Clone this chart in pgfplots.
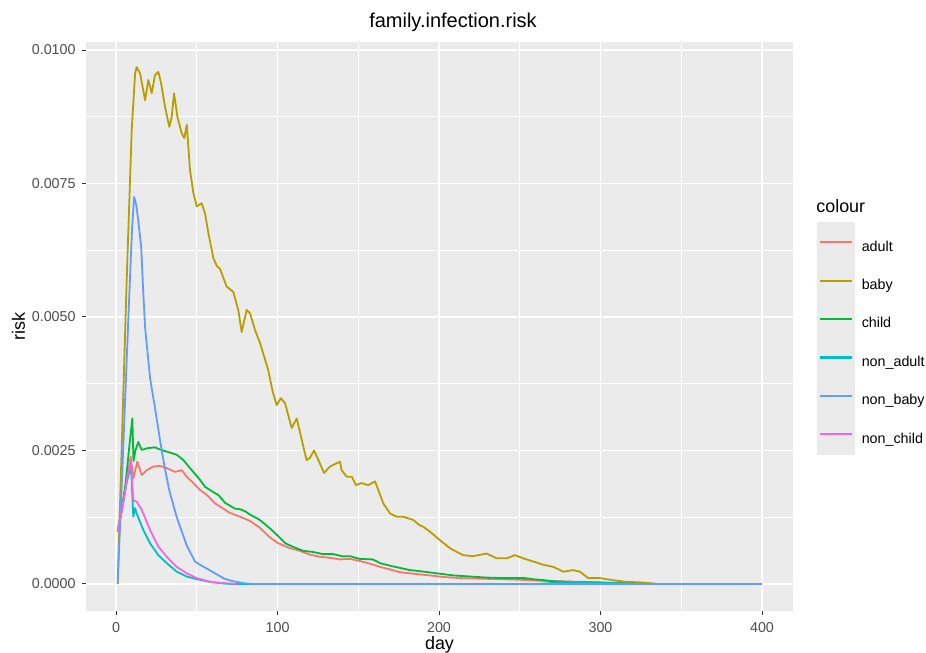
\documentclass[border=0pt]{standalone}
\usepackage{pgfplots}
\pgfplotsset{compat=1.18}
\usepackage{fontspec}
\setmainfont{Liberation Sans}
\definecolor{ggbg}{HTML}{EBEBEB}
\definecolor{gg20}{HTML}{333333}
\definecolor{gg30}{HTML}{4D4D4D}
\definecolor{cadult}{HTML}{F8766D}
\definecolor{cbaby}{HTML}{B79F00}
\definecolor{cchild}{HTML}{00BA38}
\definecolor{cnonadult}{HTML}{00BFC4}
\definecolor{cnonbaby}{HTML}{619CFF}
\definecolor{cnonchild}{HTML}{F564E3}
\begin{document}
\begin{tikzpicture}
\path[use as bounding box] (-43pt,-21pt) rectangle (420pt,305.5pt);
\begin{axis}[
  at={(0pt,0pt)}, anchor=south west,
  scale only axis, width=353.5pt, height=284.5pt,
  xmin=-18.6, xmax=419.2, ymin=-0.000506, ymax=0.01015,
  axis background/.style={fill=ggbg},
  axis line style={draw=none},
  xtick={0,100,200,300,400}, xticklabels={0,100,200,300,400},
  ytick={0,0.0025,0.005,0.0075,0.01},
  yticklabels={0.0000,0.0025,0.0050,0.0075,0.0100},
  scaled y ticks=false, scaled x ticks=false,
  minor xtick={50,150,250,350},
  minor ytick={0.00125,0.00375,0.00625,0.00875},
  grid=both,
  major grid style={white,line width=0.9pt},
  minor grid style={white,line width=0.45pt},
  tick align=outside, xtick pos=bottom, ytick pos=left,
  major tick length=2pt, minor tick length=0pt,
  tick style={draw=gg20, line width=0.5pt},
  ticklabel style={font=\fontsize{7.15}{8}\selectfont, text=gg30, inner sep=0pt},
  yticklabel style={xshift=-3pt},
  xticklabel style={yshift=-3.5pt},
  no markers,
  every axis plot/.append style={line width=0.9pt, line join=round},
  legend style={at={(axis description cs:1.0335,0.6837)}, anchor=north west,
    draw=none, fill=none, inner sep=0pt, outer sep=0pt, row sep=-1.2pt, column sep=3.35pt,
    font=\fontsize{7.15}{8}\selectfont, nodes={inner sep=0pt, text=black}},
  legend cell align=left,
  legend image code/.code={\fill[ggbg] (0pt,-7.25pt) rectangle (18.3pt,12.25pt);
    \draw[#1,line width=1.1pt] (1.3pt,2.5pt) -- (17pt,2.5pt);},
]
% adult
\addplot[cadult] coordinates {(1,0.00098) (4,0.00145) (6.5,0.0019) (9.1,0.00238) (10.7,0.00198) (13.2,0.00229) (15.9,0.00204) (19,0.00213) (23.1,0.0022) (27.2,0.00221) (31.4,0.00217) (36.5,0.0021) (40.7,0.00213) (43.8,0.00201) (47.9,0.00189) (52,0.00176) (56.1,0.00167) (61.3,0.00151) (64.4,0.00145) (70.6,0.00133) (76.8,0.00126) (83,0.00118) (89.2,0.00105) (95,0.00088) (100,0.00077) (107.7,0.00067) (113.9,0.00062) (120,0.00055) (126.3,0.00051) (132.5,0.00049) (138.7,0.00046) (144.9,0.00047) (151,0.00043) (157.3,0.00038) (163.5,0.00032) (170,0.00027) (175.9,0.00022) (185,0.00019) (194.4,0.00016) (203,0.00013) (213,0.00011) (225,0.0001) (237.8,0.00009) (250,0.00008) (262.5,0.00006) (275,0.00005) (287.3,0.00004) (300,0.00003) (312,0.00002) (324.5,0)};
\addlegendentry{adult}
% baby
\addplot[cbaby] coordinates {(1,0) (6.6,0.0057) (9.7,0.0085) (11.8,0.00956) (12.8,0.00968) (14.9,0.00956) (18,0.00906) (20,0.00944) (22.1,0.00919) (24.1,0.00953) (26.2,0.00959) (27.9,0.00938) (30.3,0.00894) (33,0.00856) (34.5,0.00875) (35.9,0.00919) (38,0.00875) (40.7,0.00844) (42.3,0.00835) (43.8,0.0086) (45.8,0.00775) (47.9,0.00732) (50,0.00707) (53,0.00713) (55.1,0.00694) (57.2,0.00657) (60.3,0.0061) (62.5,0.00595) (64.4,0.0059) (68.5,0.00557) (72.6,0.00547) (75.7,0.00513) (77.8,0.00472) (80.9,0.00513) (83,0.00507) (86,0.00476) (89.2,0.00451) (92.3,0.0042) (94.3,0.004) (97,0.0036) (99.5,0.00335) (102,0.00348) (104.6,0.00339) (108.8,0.00292) (111.9,0.0031) (116,0.00257) (118,0.00232) (120,0.00236) (122.6,0.0025) (125.3,0.00232) (128.8,0.00208) (132.5,0.0022) (136.6,0.00226) (138.7,0.00229) (139.7,0.00213) (142.8,0.00201) (146,0.00201) (148.6,0.00185) (152,0.00189) (156.2,0.00185) (160.4,0.00192) (162.4,0.00176) (165.5,0.00151) (169.7,0.00132) (173.8,0.00126) (177.9,0.00126) (184,0.0012) (188,0.0011) (190.3,0.00107) (194.4,0.00098) (200.6,0.00082) (206.8,0.00067) (211,0.0006) (215,0.00054) (221,0.00052) (229.5,0.00057) (235.7,0.00048) (241.9,0.00048) (247,0.00054) (252.2,0.00048) (258.4,0.00042) (264.6,0.00036) (270.8,0.00032) (277,0.00023) (283,0.00026) (287.3,0.00023) (292.4,0.00011) (299.7,0.00011) (308,0.00007) (316,0.00004) (324.5,0.00003) (332.7,0.00001) (335.8,0)};
\addlegendentry{baby}
% child
\addplot[cchild] coordinates {(1,0.00098) (4,0.0015) (6,0.0019) (8.2,0.00257) (10.1,0.0031) (10.8,0.0023) (12,0.0025) (13.8,0.00266) (15.9,0.00251) (19,0.00254) (24.1,0.00256) (27,0.00252) (31.4,0.00248) (37.6,0.00242) (41.7,0.00232) (45.8,0.00217) (52,0.00195) (55.1,0.00182) (58.2,0.00176) (61.3,0.0017) (63.3,0.00167) (67.5,0.00152) (73.7,0.00141) (76.8,0.0014) (80,0.00136) (83,0.0013) (89,0.0012) (95,0.00105) (101,0.00088) (105,0.00076) (110.8,0.00068) (116,0.00062) (122,0.0006) (128,0.00056) (134.4,0.00056) (140,0.00052) (144.9,0.00052) (151,0.00047) (159,0.00046) (163.5,0.00039) (170,0.00034) (175.9,0.0003) (182,0.00026) (188.2,0.00024) (198.5,0.0002) (209,0.00016) (219,0.00014) (229.5,0.00012) (240,0.00011) (253,0.00011) (258,0.00009) (265.6,0.00007) (270.7,0.00005) (281,0.00004) (291,0.00003) (304,0.000015) (316,0.00001) (330,0)};
\addlegendentry{child}
% non_adult
\addplot[cnonadult] coordinates {(1,0.00098) (4,0.00145) (6.5,0.0019) (9.3,0.0022) (10.7,0.00126) (11.8,0.00142) (12.8,0.00132) (16.9,0.00101) (21.1,0.00076) (26.2,0.00054) (31.4,0.00039) (37.6,0.00023) (43.8,0.00014) (50,0.00009) (58.2,0.00004) (66,0.00001) (72,0) (262,0) (275,0.00003) (290,0.00004) (305,0.00002) (320,0)};
\addlegendentry{non\_adult}
% non_baby
\addplot[cnonbaby] coordinates {(1,0) (4,0.0022) (7,0.0045) (9,0.006) (10,0.0067) (11.2,0.00725) (12.5,0.0071) (13.8,0.0068) (15.6,0.0063) (16.8,0.0055) (18,0.0048) (21.1,0.00385) (24.1,0.0033) (27.2,0.0027) (30,0.0022) (33,0.00175) (37.6,0.00125) (43.8,0.00072) (48.9,0.00042) (52,0.00036) (56.1,0.00029) (62.4,0.00018) (67,0.0001) (72.6,0.00005) (80,0.00001) (85,0) (400,0)};
\addlegendentry{non\_baby}
% non_child
\addplot[cnonchild] coordinates {(1,0.00098) (4,0.00145) (6.5,0.0019) (9.1,0.00232) (10.7,0.00157) (12.8,0.00154) (15.9,0.00139) (21.1,0.00101) (26.2,0.0007) (31.4,0.00051) (37.6,0.00032) (43.8,0.0002) (50,0.00011) (58.2,0.00004) (64.4,0.00002) (75,0)};
\addlegendentry{non\_child}
\end{axis}
\node[font=\fontsize{10}{12}\selectfont] at (183.5pt,294.5pt) {family.infection.risk};
\node[font=\fontsize{8.95}{10}\selectfont] at (176.75pt,-17pt) {day};
\node[font=\fontsize{8.95}{10}\selectfont, rotate=90] at (-33.75pt,142.25pt) {risk};
\node[anchor=west, inner sep=0pt, font=\fontsize{8.95}{10}\selectfont] at (365pt,202.5pt) {colour};
\end{tikzpicture}
\end{document}
